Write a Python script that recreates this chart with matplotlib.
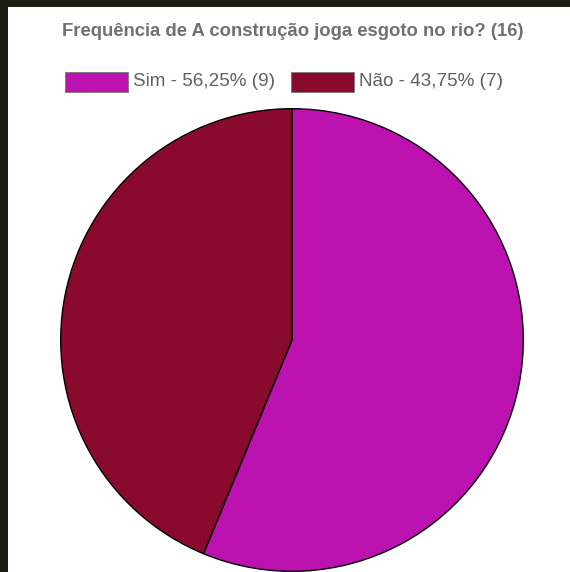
import matplotlib
matplotlib.use("Agg")
import matplotlib.pyplot as plt
from matplotlib.patches import Rectangle

labels = ["Sim", "Não"]
counts = [9, 7]
colors = ["#bb12b0", "#8a0a2e"]
title = "Frequência de A construção joga esgoto no rio? (16)"

total = sum(counts)
W, H = 570, 572

plt.rcParams['font.family'] = ['Liberation Sans', 'DejaVu Sans']

fig = plt.figure(figsize=(W / 100, H / 100), dpi=100, facecolor="#1c1c12")
# white canvas, dark strip on top and left
fig.patches.append(Rectangle((8 / W, 0), 1, (H - 7) / H, transform=fig.transFigure,
                             facecolor="white", edgecolor="none", zorder=-5))

fig.text(293 / W, 1 - 31 / H, title, ha="center", va="center",
         fontsize=13.3, fontweight="bold", color="#707070")

# legend
x = 65
for lab, c, n in zip(labels, colors, counts):
    pct = f"{100 * n / total:.2f}".replace(".", ",")
    fig.patches.append(Rectangle((x / W, 1 - 92 / H), 63 / W, 20 / H,
                                 transform=fig.transFigure, facecolor=c,
                                 edgecolor="#777777", linewidth=0.6))
    fig.text((x + 68) / W, 1 - 81 / H, f"{lab} - {pct}% ({n})",
             ha="left", va="center", fontsize=13.6, color="#606060")
    x = 291

ax = fig.add_axes([60 / W, 0, 464 / W, 464 / H])
ax.set_zorder(1)
ax.pie(counts, colors=colors, startangle=90, counterclock=False, radius=1,
       wedgeprops=dict(edgecolor="black", linewidth=1.0))
ax.set_xlim(-1.003, 1.003)
ax.set_ylim(-1.003, 1.003)
ax.set_aspect("equal")
ax.axis("off")

fig.savefig("out.png", dpi=100, facecolor=fig.get_facecolor())
